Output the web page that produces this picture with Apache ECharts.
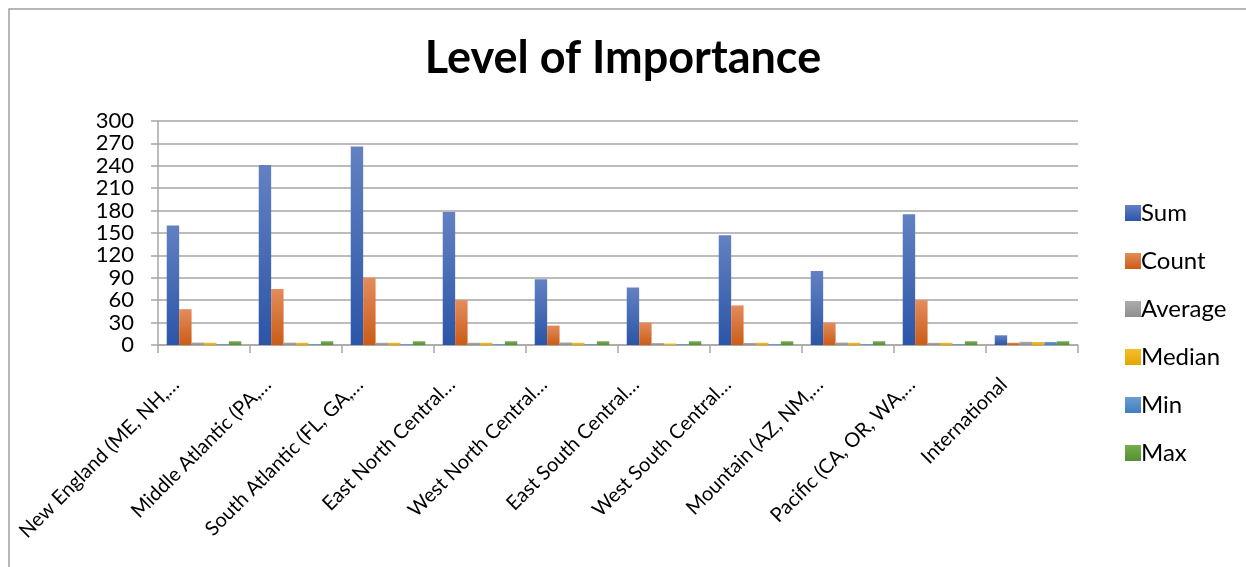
<!DOCTYPE html>
<html>
<head>
<meta charset="utf-8">
<title>Level of Importance</title>
<script src="https://cdn.jsdelivr.net/npm/echarts@6/dist/echarts.min.js"></script>
<style>
    html, body { margin: 0; padding: 0; background: #fff; }
    #chart { width: 1246px; height: 567px; }
</style>
</head>
<body>
<div id="chart"></div>
<script>
// categories (labels as shown, truncated)
var regions = [
    'New England (ME, NH,…',
    'Middle Atlantic (PA,…',
    'South Atlantic (FL, GA,…',
    'East North Central…',
    'West North Central…',
    'East South Central…',
    'West South Central…',
    'Mountain (AZ, NM,…',
    'Pacific (CA, OR, WA,…',
    'International'
];
var sumData = [160, 241, 266, 178, 88, 77, 147, 99, 175, 13];
var countData = [48, 75, 90, 60, 26, 30, 53, 30, 60, 3];
var averageData = [3.3, 3.2, 3.0, 3.0, 3.4, 2.6, 2.8, 3.3, 2.9, 4.3];
var medianData = [3, 3, 3, 3, 3, 2, 3, 3, 3, 4];
var minData = [1, 1, 1, 1, 1, 1, 1, 1, 1, 4];
var maxData = [5, 5, 5, 5, 5, 5, 5, 5, 5, 5];
var yTicks = [0, 30, 60, 90, 120, 150, 180, 210, 240, 270, 300];

var font = 'Lato, "Open Sans", sans-serif';

function grad(top, bottom) {
    return new echarts.graphic.LinearGradient(0, 0, 0, 1, [
        { offset: 0, color: top },
        { offset: 1, color: bottom }
    ]);
}

var seriesDefs = [
    { name: 'Sum', data: sumData, c: ['#6381c2', '#2b55a7'] },
    { name: 'Count', data: countData, c: ['#e38c5c', '#cb5c16'] },
    { name: 'Average', data: averageData, c: ['#adadad', '#8e8e8e'] },
    { name: 'Median', data: medianData, c: ['#f5bf2a', '#e1a700'] },
    { name: 'Min', data: minData, c: ['#6d9cd2', '#3e7ec0'] },
    { name: 'Max', data: maxData, c: ['#74ae4d', '#568f33'] }
];

var series = [];
for (var i = 0; i < seriesDefs.length; i++) {
    var d = seriesDefs[i];
    series.push({
        name: d.name,
        type: 'bar',
        data: d.data,
        barGap: '0%',
        barCategoryGap: '19%',
        itemStyle: { color: grad(d.c[0], d.c[1]) }
    });
}

var chart = echarts.init(document.getElementById('chart'), null, { renderer: 'canvas' });
chart.setOption({
    animation: false,
    backgroundColor: '#fff',
    textStyle: { fontFamily: font },
    title: {
        text: 'Level of Importance',
        left: 'center',
        top: 31,
        textStyle: { fontFamily: font, fontSize: 45, fontWeight: 'bold', color: '#000' }
    },
    graphic: [{
        type: 'rect',
        shape: { x: 9, y: 9, width: 1260, height: 620 },
        style: { fill: 'none', stroke: '#a0a0a0', lineWidth: 1.5 },
        silent: true
    }],
    legend: {
        orient: 'vertical',
        left: 1120,
        top: 196,
        itemWidth: 16,
        itemHeight: 16,
        itemGap: 24,
        icon: 'rect',
        textStyle: { fontFamily: font, fontSize: 24, color: '#000', padding: [0, 0, 0, -5] },
        data: seriesDefs.map(function (s) { return s.name; })
    },
    grid: {
        left: 158,
        right: 168,
        top: 121,
        bottom: 222,
        containLabel: false
    },
    xAxis: {
        type: 'category',
        data: regions,
        axisLine: { lineStyle: { color: '#a6a6a6', width: 1.5 } },
        axisTick: { show: true, length: 8, lineStyle: { color: '#a6a6a6', width: 1.5 } },
        axisLabel: {
            rotate: 45,
            interval: 0,
            margin: 8,
            padding: [0, 40, 0, 0],
            fontSize: 20,
            color: '#000',
            fontFamily: font
        }
    },
    yAxis: {
        type: 'value',
        min: yTicks[0],
        max: yTicks[yTicks.length - 1],
        interval: 30,
        axisLine: { show: true, lineStyle: { color: '#a6a6a6', width: 1.5 } },
        axisTick: { show: true, length: 7, lineStyle: { color: '#a6a6a6', width: 1.5 } },
        axisLabel: {
            fontSize: 22,
            color: '#000',
            margin: 24,
            fontFamily: font,
            showMinLabel: true,
            showMaxLabel: true
        },
        splitLine: { lineStyle: { color: '#a6a6a6', width: 1.5 } }
    },
    series: series
});
</script>
</body>
</html>
